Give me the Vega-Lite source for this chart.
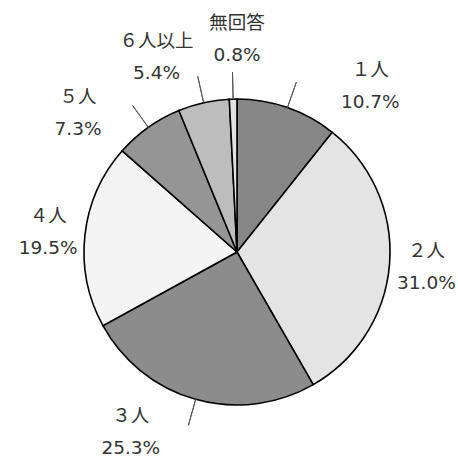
{
  "$schema": "https://vega.github.io/schema/vega-lite/v6.json",
  "width": 442,
  "height": 420,
  "autosize": "none",
  "padding": {"left": 16, "top": 42, "right": 0, "bottom": 0},
  "background": "white",
  "view": {"stroke": null},
  "data": {
    "values": [
      {"o": 1, "k": "１人", "v": 10.7},
      {"o": 2, "k": "２人", "v": 31.0},
      {"o": 3, "k": "３人", "v": 25.3},
      {"o": 4, "k": "４人", "v": 19.5},
      {"o": 5, "k": "５人", "v": 7.3},
      {"o": 6, "k": "６人以上", "v": 5.4},
      {"o": 7, "k": "無回答", "v": 0.8}
    ]
  },
  "transform": [
    {"stack": "v", "groupby": [], "sort": [{"field": "o"}], "as": ["s0", "s1"]},
    {"calculate": "(datum.s0 + datum.s1) / 2", "as": "mid"},
    {"calculate": "datum.k + '\\n' + format(datum.v, '.1f') + '%'", "as": "lab"}
  ],
  "layer": [
    {
      "mark": {"type": "arc", "outerRadius": 153, "stroke": "#000000", "strokeWidth": 1.6},
      "encoding": {
        "theta": {"field": "s0", "type": "quantitative", "scale": {"domain": [0, 100]}},
        "theta2": {"field": "s1"},
        "color": {
          "field": "k",
          "type": "nominal",
          "legend": null,
          "scale": {
            "domain": ["１人", "２人", "３人", "４人", "５人", "６人以上", "無回答"],
            "range": ["#878787", "#e4e4e4", "#8c8c8c", "#f4f4f4", "#959595", "#bdbdbd", "#e2e2e2"]
          }
        }
      }
    },
    {
      "transform": [{"filter": {"field": "k", "oneOf": ["１人", "３人", "５人", "６人以上", "無回答"]}}],
      "mark": {"type": "arc", "innerRadius": 153, "outerRadius": 180, "stroke": "#555555", "strokeWidth": 1, "fill": null},
      "encoding": {
        "theta": {"field": "mid", "type": "quantitative", "scale": {"domain": [0, 100]}},
        "theta2": {"field": "mid"}
      }
    },
    {
      "transform": [{"filter": {"field": "k", "oneOf": ["２人", "４人"]}}],
      "mark": {"type": "text", "font": "DejaVu Sans, Noto Sans CJK JP", "fontSize": 18.5, "lineBreak": "\n", "lineHeight": 32, "color": "#333333", "align": "center", "baseline": "middle", "dy": -15},
      "encoding": {
        "theta": {"field": "mid", "type": "quantitative", "scale": {"domain": [0, 100]}},
        "radius": {"value": 190},
        "text": {"field": "lab"}
      }
    },
    {
      "transform": [{"filter": {"field": "k", "oneOf": ["５人", "６人以上"]}}],
      "mark": {"type": "text", "font": "DejaVu Sans, Noto Sans CJK JP", "fontSize": 18.5, "lineBreak": "\n", "lineHeight": 32, "color": "#333333", "align": "center", "baseline": "middle", "dy": -15},
      "encoding": {
        "theta": {"field": "s0", "type": "quantitative", "scale": {"domain": [0, 100]}},
        "radius": {"value": 212},
        "text": {"field": "lab"}
      }
    },
    {
      "transform": [{"filter": {"field": "k", "oneOf": ["１人", "無回答"]}}],
      "mark": {"type": "text", "font": "DejaVu Sans, Noto Sans CJK JP", "fontSize": 18.5, "lineBreak": "\n", "lineHeight": 32, "color": "#333333", "align": "center", "baseline": "middle", "dy": -15},
      "encoding": {
        "theta": {"field": "s1", "type": "quantitative", "scale": {"domain": [0, 100]}},
        "radius": {"value": 214},
        "text": {"field": "lab"}
      }
    },
    {
      "transform": [{"filter": {"field": "k", "equal": "３人"}}],
      "mark": {"type": "text", "font": "DejaVu Sans, Noto Sans CJK JP", "fontSize": 18.5, "lineBreak": "\n", "lineHeight": 32, "color": "#333333", "align": "center", "baseline": "middle", "dx": -56, "dy": -15},
      "encoding": {
        "theta": {"field": "mid", "type": "quantitative", "scale": {"domain": [0, 100]}},
        "radius": {"value": 186},
        "text": {"field": "lab"}
      }
    }
  ]
}
